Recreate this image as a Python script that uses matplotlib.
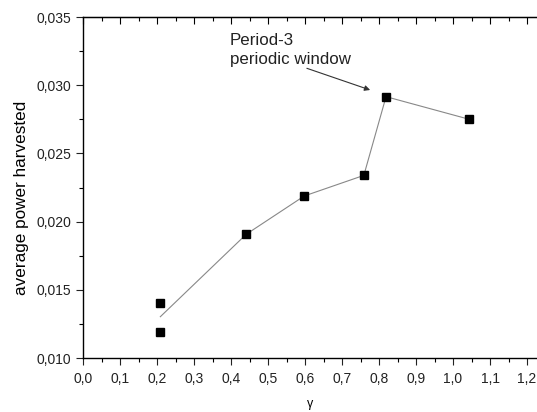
import matplotlib.pyplot as plt
from matplotlib.ticker import FuncFormatter, MultipleLocator

plt.rcParams['font.family'] = ['Liberation Sans', 'DejaVu Sans']

# measured points (gamma, average power)
gamma_pts = [0.209, 0.209, 0.441, 0.598, 0.759, 0.819, 1.044]
power_pts = [0.01401, 0.01193, 0.01907, 0.02188, 0.02339, 0.02916, 0.02750]

# connecting line (starts between the two points at gamma ~0.21)
gamma_line = [0.209, 0.441, 0.598, 0.759, 0.819, 1.044]
power_line = [0.01303, 0.01907, 0.02188, 0.02339, 0.02916, 0.02750]


def comma(v, pos, nd):
    return f"{v:.{nd}f}".replace(".", ",")


fig = plt.figure(figsize=(5.37, 4.12), dpi=100)
ax = fig.add_axes([0.1546, 0.131, 0.8454, 0.8277])

ax.plot(gamma_line, power_line, color="#888888", lw=0.8, zorder=2)
ax.plot(gamma_pts, power_pts, "s", color="black", ms=6.3, zorder=3)

ax.annotate("", xy=(0.776, 0.02965), xytext=(0.605, 0.03124),
            arrowprops=dict(arrowstyle="-|>", color="#333333", lw=0.8,
                            mutation_scale=8, shrinkA=0, shrinkB=0))
ax.text(0.397, 0.0326, "Period-3\nperiodic window", fontsize=12.2,
        ha="left", va="center", color="#222222", linespacing=1.35)

ax.set_xlim(0, 1.227)
ax.set_ylim(0.010, 0.035)
ax.spines["right"].set_visible(False)

ax.xaxis.set_major_locator(MultipleLocator(0.1))
ax.xaxis.set_minor_locator(MultipleLocator(0.05))
ax.yaxis.set_major_locator(MultipleLocator(0.005))
ax.yaxis.set_minor_locator(MultipleLocator(0.0025))
ax.xaxis.set_major_formatter(FuncFormatter(lambda v, p: comma(v, p, 1)))
ax.yaxis.set_major_formatter(FuncFormatter(lambda v, p: comma(v, p, 3)))

ax.tick_params(which="major", direction="out", length=5, width=0.8,
               labelsize=10, colors="#222222")
ax.tick_params(which="minor", direction="out", length=3, width=0.8)
ax.tick_params(axis="x", which="major", pad=5)
ax.tick_params(axis="y", right=False, which="both")

top = ax.secondary_xaxis("top")
top.xaxis.set_major_locator(MultipleLocator(0.1))
top.xaxis.set_minor_locator(MultipleLocator(0.05))
top.tick_params(which="major", direction="in", length=5, width=0.8,
                labeltop=False)
top.tick_params(which="minor", direction="in", length=3, width=0.8)

for s in ["left", "bottom", "top"]:
    ax.spines[s].set_linewidth(1.0)

ax.set_xlabel("γ", fontsize=9, labelpad=9)
ax.set_ylabel("average power harvested", fontsize=12.3)
ax.yaxis.set_label_coords(-0.118, 0.469)

fig.savefig("out.png", dpi=100)
